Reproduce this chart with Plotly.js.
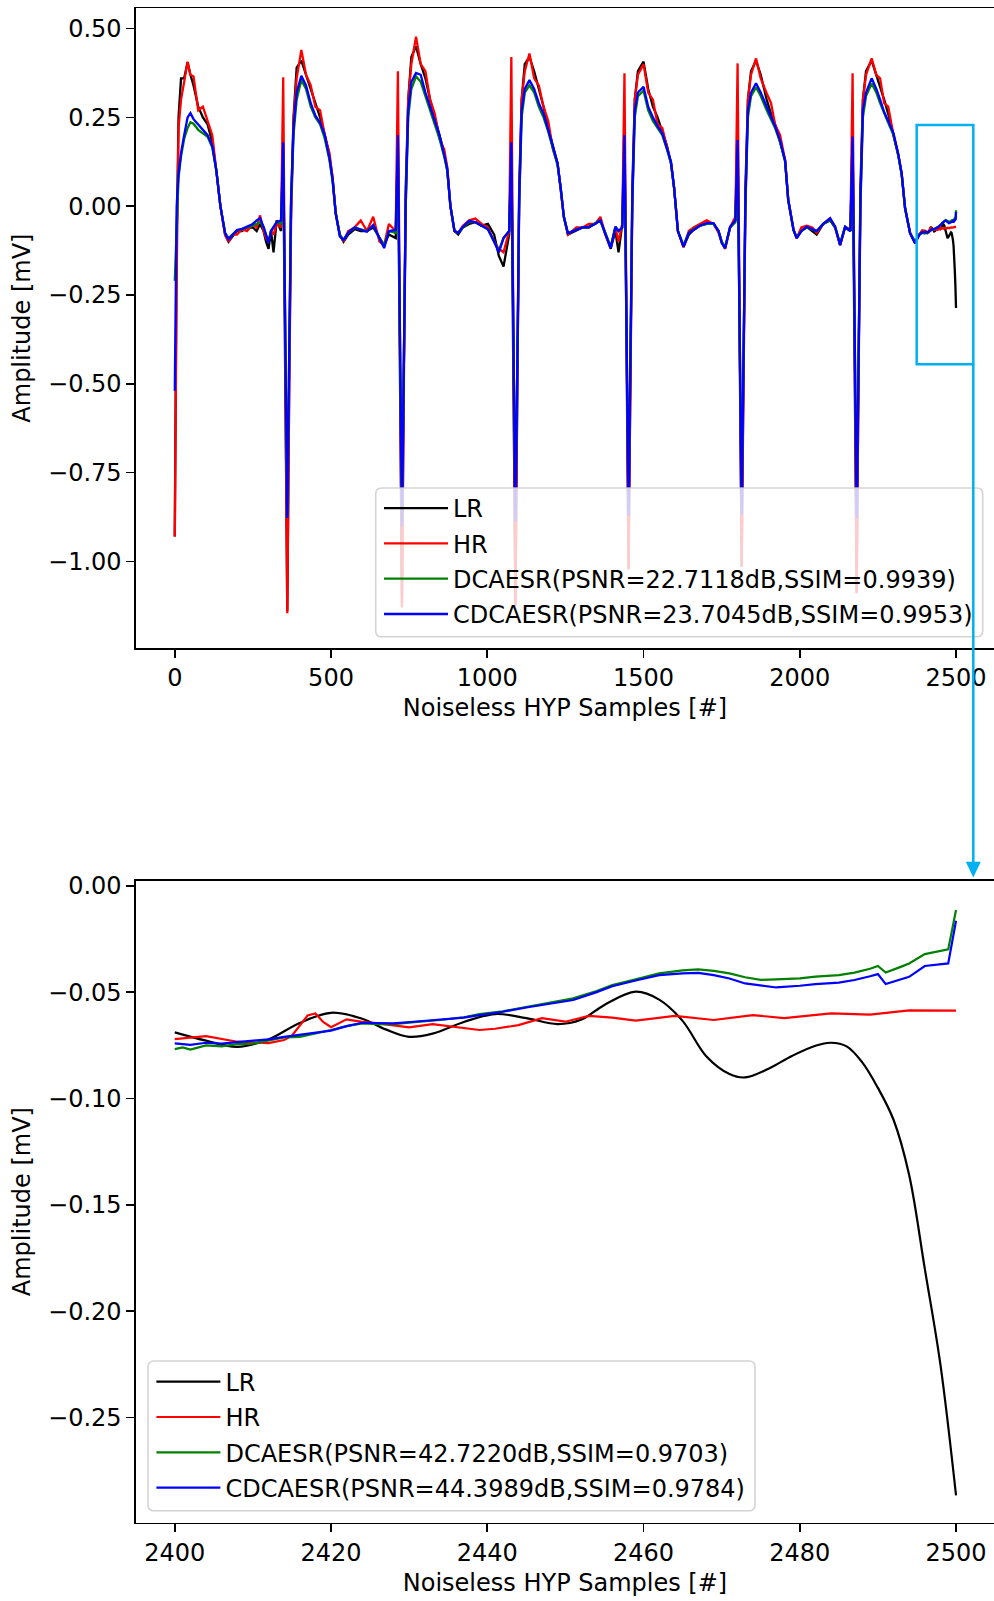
<!DOCTYPE html>
<html><head><meta charset="utf-8">
<script src="https://cdn.plot.ly/plotly-3.0.1.min.js"></script>
<style>html,body{margin:0;padding:0;background:#fff;}#chart{width:994px;height:1601px;}</style>
</head><body><div id="chart"></div>
<script>
// ---------- full record (samples 0..2399) ----------
const topSamples = [
  0,6,12,20,30,41,50,60,75,90,105,120,133,146,161,172,185,199,215,231,250,262,273,284,292,300,308,316,326,340,347,
  360,366,372,380,390,405,420,435,450,465,480,495,505,515,528,540,555,575,595,615,635,655,670,685,707,714,
  727,733,739,747,757,772,787,802,817,832,847,862,872,882,895,907,922,942,962,982,1002,1022,1037,1052,1070,1077,
  1090,1096,1102,1110,1120,1135,1150,1165,1180,1195,1210,1225,1235,1245,1258,1270,1285,1305,1325,1345,1362,1378,1395,1410,1420,1432,1439,
  1452,1458,1464,1472,1482,1500,1515,1530,1545,1560,1575,1588,1598,1610,1628,1645,1660,1680,1702,1724,1740,1750,1761,1777,1794,1801,
  1814,1820,1826,1834,1844,1860,1875,1894,1908,1921,1937,1953,1963,1980,1990,2005,2022,2040,2054,2075,2097,2113,2129,2145,2162,2169,
  2182,2188,2194,2202,2212,2230,2245,2257,2270,2283,2300,2315,2326,2337,2353,2369,2382,2392
];
const topLR = [
  -0.93,-0.1,0.25,0.36,0.36,0.405,0.37,0.34,0.28,0.25,0.23,0.18,0.1,0.0,-0.08,-0.1,-0.085,-0.07,-0.07,-0.06,-0.06,-0.07,-0.05,-0.07,-0.1,-0.12,-0.07,-0.13,-0.04,-0.07,0.15,
  -1.14,-0.5,0.0,0.25,0.39,0.41,0.37,0.33,0.29,0.25,0.2,0.14,0.08,-0.02,-0.08,-0.1,-0.08,-0.065,-0.07,-0.07,-0.06,-0.09,-0.11,-0.08,-0.09,0.18,
  -1.12,-0.45,0.05,0.3,0.42,0.45,0.4,0.36,0.3,0.25,0.2,0.15,0.1,0.0,-0.07,-0.08,-0.06,-0.05,-0.045,-0.055,-0.05,-0.08,-0.14,-0.17,-0.08,0.15,
  -1.12,-0.45,0.05,0.3,0.4,0.42,0.38,0.33,0.28,0.22,0.17,0.12,0.05,-0.03,-0.08,-0.075,-0.07,-0.06,-0.06,-0.05,-0.04,-0.08,-0.12,-0.07,-0.13,-0.05,0.25,
  -1.02,-0.45,0.05,0.3,0.38,0.407,0.33,0.28,0.25,0.21,0.17,0.12,0.05,-0.07,-0.115,-0.08,-0.067,-0.055,-0.05,-0.05,-0.07,-0.1,-0.12,-0.06,-0.04,0.25,
  -1.015,-0.45,0.05,0.3,0.38,0.41,0.37,0.3,0.26,0.23,0.18,0.13,0.02,-0.067,-0.09,-0.07,-0.058,-0.07,-0.08,-0.05,-0.04,-0.06,-0.11,-0.06,-0.07,0.2,
  -1.09,-0.45,0.05,0.3,0.38,0.41,0.37,0.34,0.3,0.26,0.2,0.145,0.09,-0.006,-0.076,-0.104,-0.08,-0.07
];
const topHR = [
  -0.93,-0.2,0.22,0.3,0.35,0.407,0.37,0.365,0.27,0.28,0.24,0.2,0.1,0.0,-0.08,-0.1,-0.08,-0.08,-0.065,-0.07,-0.05,-0.06,-0.026,-0.07,-0.09,-0.1,-0.07,-0.08,-0.05,-0.06,0.363,
  -1.146,-0.55,-0.05,0.24,0.36,0.44,0.37,0.34,0.28,0.27,0.2,0.15,0.08,-0.02,-0.08,-0.1,-0.07,-0.06,-0.04,-0.07,-0.03,-0.1,-0.11,-0.05,-0.07,0.38,
  -1.13,-0.5,0.0,0.3,0.4,0.477,0.4,0.38,0.3,0.26,0.19,0.16,0.11,0.0,-0.07,-0.075,-0.055,-0.04,-0.035,-0.05,-0.06,-0.1,-0.12,-0.13,-0.07,0.42,
  -1.127,-0.5,0.0,0.3,0.38,0.43,0.36,0.34,0.28,0.24,0.16,0.12,0.05,-0.03,-0.08,-0.07,-0.06,-0.06,-0.05,-0.05,-0.03,-0.08,-0.115,-0.06,-0.1,-0.05,0.374,
  -1.024,-0.5,0.0,0.3,0.37,0.4,0.32,0.3,0.23,0.22,0.17,0.12,0.05,-0.07,-0.115,-0.07,-0.06,-0.05,-0.04,-0.05,-0.075,-0.1,-0.12,-0.06,-0.03,0.402,
  -1.015,-0.5,0.0,0.3,0.37,0.416,0.36,0.318,0.29,0.23,0.2,0.13,0.017,-0.067,-0.09,-0.06,-0.055,-0.06,-0.075,-0.05,-0.034,-0.058,-0.109,-0.058,-0.065,0.374,
  -1.089,-0.5,0.0,0.3,0.37,0.416,0.37,0.36,0.29,0.28,0.2,0.147,0.092,-0.006,-0.076,-0.104,-0.08,-0.068
];
const topDCAESR = [
  -0.21,-0.05,0.08,0.14,0.19,0.22,0.236,0.232,0.215,0.205,0.195,0.165,0.1,0.0,-0.075,-0.09,-0.08,-0.068,-0.065,-0.06,-0.055,-0.05,-0.045,-0.058,-0.08,-0.1,-0.07,-0.06,-0.045,-0.05,0.15,
  -0.87,-0.45,0.0,0.2,0.3,0.355,0.33,0.28,0.25,0.23,0.19,0.13,0.07,-0.02,-0.08,-0.095,-0.075,-0.06,-0.065,-0.07,-0.055,-0.09,-0.11,-0.07,-0.075,0.14,
  -0.89,-0.45,0.0,0.25,0.33,0.365,0.35,0.31,0.27,0.23,0.19,0.14,0.1,0.0,-0.07,-0.075,-0.06,-0.045,-0.045,-0.055,-0.065,-0.1,-0.125,-0.09,-0.07,0.15,
  -0.87,-0.45,0.0,0.25,0.32,0.34,0.32,0.28,0.25,0.21,0.16,0.115,0.05,-0.03,-0.075,-0.072,-0.065,-0.06,-0.058,-0.048,-0.04,-0.075,-0.115,-0.058,-0.07,-0.06,0.17,
  -0.86,-0.45,0.0,0.25,0.31,0.325,0.27,0.24,0.22,0.2,0.16,0.12,0.05,-0.07,-0.11,-0.075,-0.065,-0.055,-0.05,-0.05,-0.07,-0.1,-0.115,-0.06,-0.045,0.16,
  -0.86,-0.45,0.0,0.25,0.31,0.335,0.31,0.27,0.245,0.22,0.18,0.125,0.017,-0.067,-0.088,-0.07,-0.06,-0.065,-0.07,-0.05,-0.038,-0.058,-0.105,-0.058,-0.07,0.17,
  -0.86,-0.45,0.0,0.25,0.31,0.345,0.32,0.29,0.26,0.235,0.2,0.143,0.09,-0.006,-0.076,-0.1,-0.08,-0.075
];
const topCDCAESR = [
  -0.52,0.0,0.09,0.15,0.2,0.25,0.262,0.245,0.23,0.215,0.2,0.17,0.1,0.0,-0.076,-0.093,-0.08,-0.067,-0.064,-0.058,-0.05,-0.04,-0.034,-0.058,-0.085,-0.104,-0.07,-0.058,-0.045,-0.04,0.179,
  -0.878,-0.45,0.02,0.22,0.32,0.367,0.34,0.29,0.255,0.235,0.2,0.135,0.075,-0.02,-0.085,-0.095,-0.075,-0.06,-0.065,-0.072,-0.053,-0.09,-0.118,-0.07,-0.067,0.2,
  -0.902,-0.45,0.02,0.27,0.35,0.375,0.37,0.32,0.28,0.24,0.2,0.145,0.105,0.0,-0.07,-0.075,-0.058,-0.042,-0.045,-0.055,-0.065,-0.1,-0.13,-0.09,-0.07,0.18,
  -0.888,-0.45,0.02,0.27,0.33,0.355,0.33,0.29,0.26,0.215,0.165,0.12,0.05,-0.03,-0.076,-0.072,-0.065,-0.06,-0.058,-0.05,-0.04,-0.076,-0.118,-0.058,-0.07,-0.06,0.2,
  -0.872,-0.45,0.02,0.27,0.32,0.336,0.28,0.25,0.225,0.205,0.165,0.125,0.05,-0.07,-0.114,-0.075,-0.067,-0.055,-0.048,-0.048,-0.07,-0.104,-0.118,-0.058,-0.04,0.186,
  -0.869,-0.45,0.02,0.27,0.32,0.346,0.32,0.28,0.25,0.225,0.185,0.128,0.017,-0.067,-0.09,-0.07,-0.058,-0.065,-0.07,-0.05,-0.034,-0.058,-0.109,-0.058,-0.07,0.196,
  -0.878,-0.45,0.02,0.27,0.32,0.36,0.33,0.3,0.265,0.24,0.205,0.147,0.092,-0.006,-0.076,-0.104,-0.082,-0.073
];

// ---------- zoomed segment (samples 2400..2500) ----------
const zoomSamplesLR = [2400,2404,2408,2412,2416,2420,2424,2427,2430,2433,2437,2441,2445,2449,2452,2455,2459,2462,2465,2468,2471,2473,2476,2479,2482,2484,2486,2488,2490,2492,2494,2496,2498,2500];
const zoomLR = [-0.0689,-0.0728,-0.0757,-0.0722,-0.0645,-0.0597,-0.0625,-0.0675,-0.0710,-0.0695,-0.0640,-0.0603,-0.0622,-0.0650,-0.0630,-0.0560,-0.0498,-0.0535,-0.0635,-0.0800,-0.0885,-0.0901,-0.0860,-0.0800,-0.0752,-0.0738,-0.0755,-0.0830,-0.0950,-0.1100,-0.1360,-0.1800,-0.2250,-0.2866];
const zoomSamplesHR = [2400,2404,2408,2412,2414,2415,2417,2418,2419,2420,2422,2424,2426,2430,2433,2436,2439,2441,2444,2447,2450,2453,2456,2459,2464,2469,2474,2478,2484,2489,2494,2500];
const zoomHR = [-0.0721,-0.0707,-0.0733,-0.0740,-0.0725,-0.0705,-0.0610,-0.0600,-0.0640,-0.0665,-0.0628,-0.0640,-0.0647,-0.0666,-0.0650,-0.0663,-0.0678,-0.0672,-0.0655,-0.0622,-0.0639,-0.0612,-0.0620,-0.0634,-0.0612,-0.0631,-0.0608,-0.0622,-0.0600,-0.0606,-0.0586,-0.0587];
const zoomSamplesDCAESR = [2400,2401,2402,2404,2406,2408,2410,2412,2414,2416,2418,2420,2422,2424,2426,2428,2431,2434,2437,2439,2442,2445,2448,2451,2454,2456,2459,2462,2465,2467,2469,2471,2473,2475,2477,2480,2482,2485,2487,2489,2490,2491,2493,2494,2496,2498,2499,2500];
const zoomDCAESR = [-0.0768,-0.0760,-0.0770,-0.0750,-0.0755,-0.0744,-0.0742,-0.0728,-0.0713,-0.0710,-0.0695,-0.0678,-0.0660,-0.0647,-0.0650,-0.0650,-0.0640,-0.0631,-0.0618,-0.0603,-0.0590,-0.0569,-0.0550,-0.0529,-0.0495,-0.0467,-0.0440,-0.0412,-0.0398,-0.0393,-0.0400,-0.0412,-0.0430,-0.0442,-0.0440,-0.0435,-0.0427,-0.0420,-0.0408,-0.0390,-0.0377,-0.0408,-0.0380,-0.0365,-0.0321,-0.0305,-0.0299,-0.0114];
const zoomSamplesCDCAESR = [2400,2402,2404,2406,2408,2410,2412,2414,2416,2418,2420,2422,2424,2426,2428,2431,2434,2437,2439,2442,2445,2448,2451,2454,2456,2459,2462,2465,2467,2469,2471,2473,2475,2477,2480,2482,2485,2487,2489,2490,2491,2493,2494,2496,2498,2499,2500];
const zoomCDCAESR = [-0.0741,-0.0748,-0.0738,-0.0742,-0.0735,-0.0730,-0.0722,-0.0710,-0.0700,-0.0690,-0.0681,-0.0660,-0.0644,-0.0645,-0.0647,-0.0638,-0.0628,-0.0620,-0.0608,-0.0592,-0.0572,-0.0555,-0.0537,-0.0500,-0.0472,-0.0445,-0.0420,-0.0412,-0.0409,-0.0420,-0.0436,-0.0459,-0.0470,-0.0478,-0.0470,-0.0462,-0.0455,-0.0443,-0.0425,-0.0415,-0.0462,-0.0440,-0.0428,-0.0377,-0.0370,-0.0365,-0.0164];

// ---------- labels & ticks ----------
const seriesNames = ['LR','HR'];
const topMetricNames = ['DCAESR(PSNR=22.7118dB,SSIM=0.9939)','CDCAESR(PSNR=23.7045dB,SSIM=0.9953)'];
const zoomMetricNames = ['DCAESR(PSNR=42.7220dB,SSIM=0.9703)','CDCAESR(PSNR=44.3989dB,SSIM=0.9784)'];
const seriesColors = ['#000000','#ff0000','#008000','#0000ff'];
const topXTicks = [0,500,1000,1500,2000,2500];
const topYTicks = [-1.0,-0.75,-0.5,-0.25,0.0,0.25,0.5];
const zoomXTicks = [2400,2420,2440,2460,2480,2500];
const zoomYTicks = [-0.25,-0.20,-0.15,-0.10,-0.05,0.0];
const xTitle = 'Noiseless HYP Samples [#]';
const yTitle = 'Amplitude [mV]';

// ---------- layout helpers ----------
const W = 994, H = 1601, ML = 136;
const FONT = 'DejaVu Sans, sans-serif';
const CYAN = '#00b0f0';
const px = v => (v - ML) / (W - ML);
const py = v => 1 - v / H;
const fmt = v => (v < 0 ? '\u2212' : '') + Math.abs(v).toFixed(2);

const traces = [];
const topY = [topLR, topHR, topDCAESR, topCDCAESR];
const zoomX = [zoomSamplesLR, zoomSamplesHR, zoomSamplesDCAESR, zoomSamplesCDCAESR];
const zoomY = [zoomLR, zoomHR, zoomDCAESR, zoomCDCAESR];
const topNames = seriesNames.concat(topMetricNames);
const zoomNames = seriesNames.concat(zoomMetricNames);
for (let i = 0; i < 4; i++) {
  traces.push({
    type: 'scatter', mode: 'lines', xaxis: 'x', yaxis: 'y',
    x: topSamples.concat(zoomX[i]), y: topY[i].concat(zoomY[i]),
    name: topNames[i], legend: 'legend', legendgroup: 'top' + i,
    line: {color: seriesColors[i], width: 2.3}
  });
}
for (let i = 0; i < 4; i++) {
  traces.push({
    type: 'scatter', mode: 'lines', xaxis: 'x2', yaxis: 'y2',
    x: zoomX[i], y: zoomY[i],
    name: zoomNames[i], legend: 'legend2', legendgroup: 'zoom' + i,
    line: {color: seriesColors[i], width: 2.2, shape: i === 0 ? 'spline' : 'linear'}
  });
}

const axBase = {
  showline: true, linecolor: '#000', linewidth: 1.6,
  ticks: 'outside', ticklen: 8, tickwidth: 1.6, tickcolor: '#000',
  showgrid: false, zeroline: false, automargin: false,
  tickfont: {family: FONT, size: 24, color: '#000'},
  tickmode: 'array'
};
const titleFont = {family: FONT, size: 24, color: '#000'};

function roundRect(x0, y0, x1, y1, r) {
  const P = (x, y) => px(x).toFixed(5) + ',' + py(y).toFixed(5);
  return 'M' + P(x0 + r, y0) + ' L' + P(x1 - r, y0) + ' Q' + P(x1, y0) + ' ' + P(x1, y0 + r) +
    ' L' + P(x1, y1 - r) + ' Q' + P(x1, y1) + ' ' + P(x1 - r, y1) +
    ' L' + P(x0 + r, y1) + ' Q' + P(x0, y1) + ' ' + P(x0, y1 - r) +
    ' L' + P(x0, y0 + r) + ' Q' + P(x0, y0) + ' ' + P(x0 + r, y0) + ' Z';
}
const legendBox = {type: 'path', xref: 'paper', yref: 'paper', layer: 'above',
  fillcolor: 'rgba(255,255,255,0.8)', line: {color: 'rgba(204,204,204,0.85)', width: 1.6}};
const legendBase = {xanchor: 'left', yanchor: 'top', bgcolor: 'rgba(0,0,0,0)', borderwidth: 0,
  itemwidth: 64, traceorder: 'grouped', tracegroupgap: 1.1,
  font: {family: FONT, size: 24, color: '#000'}};

const layout = {
  width: W, height: H,
  margin: {l: ML, r: 0, t: 0, b: 0, pad: 0},
  paper_bgcolor: '#fff', plot_bgcolor: '#fff',
  font: {family: FONT, size: 24, color: '#000'},
  showlegend: true,
  xaxis: Object.assign({}, axBase, {
    domain: [0, 1], anchor: 'y', range: [-124.1, 2621.5], mirror: true,
    tickvals: topXTicks, ticktext: topXTicks.map(String),
    title: {text: xTitle, font: titleFont, standoff: 8}
  }),
  yaxis: Object.assign({}, axBase, {
    domain: [py(648), py(8.2)], anchor: 'x', range: [-1.244, 0.5574],
    tickvals: topYTicks, ticktext: topYTicks.map(fmt),
    title: {text: yTitle, font: titleFont, standoff: 10}
  }),
  xaxis2: Object.assign({}, axBase, {
    domain: [0, 1], anchor: 'y2', range: [2395.04, 2504.86], mirror: true,
    tickvals: zoomXTicks, ticktext: zoomXTicks.map(String),
    title: {text: xTitle, font: titleFont, standoff: 8}
  }),
  yaxis2: Object.assign({}, axBase, {
    domain: [py(1522.6), py(880.7)], anchor: 'x2', range: [-0.2994, 0.0024],
    tickvals: zoomYTicks, ticktext: zoomYTicks.map(fmt),
    title: {text: yTitle, font: titleFont, standoff: 10}
  }),
  legend: Object.assign({}, legendBase, {x: px(379), y: py(486)}),
  legend2: Object.assign({}, legendBase, {x: px(151.4), y: py(1359.6)}),
  shapes: [
    Object.assign({}, legendBox, {path: roundRect(375.7, 488, 982.7, 636.7, 6)}),
    Object.assign({}, legendBox, {path: roundRect(148, 1361, 755, 1510.7, 6)}),
    {type: 'rect', xref: 'x', yref: 'y', layer: 'above', x0: 2374.1, x1: 2555.3, y0: -0.445, y1: 0.2286,
      line: {color: CYAN, width: 2.5}, fillcolor: 'rgba(0,0,0,0)'},
    {type: 'line', xref: 'paper', yref: 'paper', layer: 'above', x0: px(973.3), x1: px(973.3),
      y0: py(364.3), y1: py(864), line: {color: CYAN, width: 2.5}},
    {type: 'path', xref: 'paper', yref: 'paper', layer: 'above',
      path: 'M' + px(965.8) + ',' + py(861.7) + ' L' + px(980.8) + ',' + py(861.7) + ' L' + px(973.3) + ',' + py(877.5) + ' Z',
      fillcolor: CYAN, line: {width: 0}}
  ]
};

Plotly.newPlot('chart', traces, layout, {displayModeBar: false, staticPlot: true});
</script></body></html>
